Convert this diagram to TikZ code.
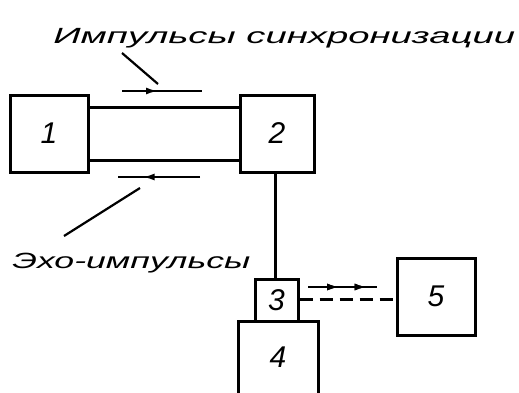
\documentclass[tikz,border=0pt]{standalone}
\usepackage{fontspec}
\setmainfont{Liberation Sans}
\usetikzlibrary{decorations.markings,arrows.meta}
\begin{document}
\begin{tikzpicture}[x=1pt,y=-1pt,
  blk/.style={draw=black,line width=3pt,inner sep=0pt,font=\fontsize{30}{30}\selectfont\itshape},
  wire/.style={draw=black,line width=3pt},
  thin/.style={draw=black,line width=2.2pt},
  lbl/.style={font=\fontsize{22}{22}\selectfont\itshape,inner sep=0pt,anchor=base west},
  midarrow/.style={postaction={decorate},decoration={markings,mark=at position #1 with {\arrow{Latex[length=12pt,width=7pt]}}}}
]
\useasboundingbox (0,0) rectangle (519,392);
\fill[white] (0,0) rectangle (519,392);
% blocks
\node[blk,minimum width=78pt,minimum height=77pt] (b1) at (49,133.5) {1};
\node[blk,minimum width=74pt,minimum height=77pt] (b2) at (277,133.5) {2};
\node[blk,minimum width=43pt,minimum height=42pt] (b3) at (276.5,300) {3};
\node[blk,minimum width=78pt,minimum height=77pt] (b5) at (436,296.5) {5};
\node[font=\fontsize{30}{30}\selectfont\itshape,inner sep=0pt] (b4) at (278,357) {4};
\coordinate (b4a) at (238,394);
\coordinate (b4b) at (318,394);
\draw[wire] (b4a) -- (238,321) -- (318,321) -- (b4b);
% links
\draw[wire] (b1.east |- 0,107) -- (b2.west |- 0,107);
\draw[wire] (b1.east |- 0,160) -- (b2.west |- 0,160);
\draw[wire] (b2.south -| 275,0) -- (b3.north -| 275,0);
\draw[wire,dashed,dash pattern=on 13pt off 7pt] (b3.east |- 0,299) -- (b5.west |- 0,299);
% signal arrows
\coordinate (ta) at (122,91); \coordinate (tb) at (202,91);
\draw[thin,midarrow=0.45] (ta) -- (tb);
\coordinate (ba) at (200,177); \coordinate (bb) at (118,177);
\draw[thin,midarrow=0.7] (ba) -- (bb);
\coordinate (da) at (308,287); \coordinate (db) at (377,287);
\draw[thin,midarrow=0.45,midarrow=0.85] (da) -- (db);
% labels
\node[lbl,xscale=1.74] (t1) at (53,43) {Импульсы синхронизации};
\node[lbl,xscale=1.62] (t2) at (12,268) {Эхо-импульсы};
\coordinate (l1a) at (122,53); \coordinate (l1b) at (158,84);
\draw[thin] (l1a) -- (l1b);
\coordinate (l2a) at (64,236); \coordinate (l2b) at (140,188);
\draw[thin] (l2a) -- (l2b);
\end{tikzpicture}
\end{document}
